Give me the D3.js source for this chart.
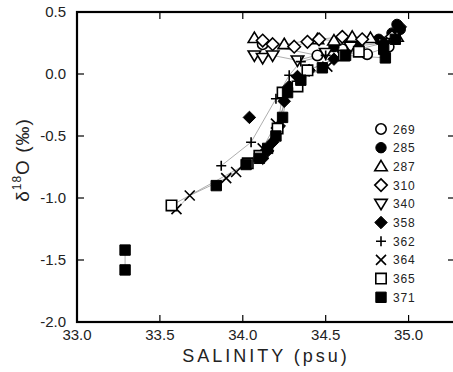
<!DOCTYPE html>
<html>
<head>
<meta charset="utf-8">
<script src="https://cdn.jsdelivr.net/npm/d3@7"></script>
<style>
  body { margin: 0; background: #fff; }
  text { font-family: "Liberation Sans", Arial, sans-serif; fill: #222; }
</style>
</head>
<body>
<div id="chart"></div>
<script>
// station ids, in legend order
const stations = ['269', '285', '287', '310', '340', '358', '362', '364', '365', '371'];

// [salinity, d18O] per station
const s269 = [[34.12, 0.24], [34.45, 0.15], [34.60, 0.20], [34.75, 0.16], [34.88, 0.22]];
const s285 = [[34.55, 0.22], [34.70, 0.25], [34.82, 0.28], [34.90, 0.33], [34.93, 0.40], [34.95, 0.36]];
const s287 = [[34.07, 0.29], [34.25, 0.24], [34.45, 0.28], [34.55, 0.27], [34.66, 0.30], [34.77, 0.29], [34.93, 0.30]];
const s310 = [[34.12, 0.27], [34.18, 0.24], [34.31, 0.22], [34.39, 0.26], [34.46, 0.28], [34.60, 0.30], [34.72, 0.28], [34.90, 0.30]];
const s340 = [[34.07, 0.15], [34.12, 0.13], [34.18, 0.15], [34.33, 0.11], [34.50, 0.17], [34.65, 0.22], [34.85, 0.25]];
const s358 = [[34.12, -0.68], [34.15, -0.62], [34.18, -0.55], [34.22, -0.42], [34.25, -0.22], [34.28, -0.10],
              [34.33, -0.02], [34.40, 0.03], [34.55, 0.12], [34.70, 0.20], [34.85, 0.25], [34.95, 0.38]];
const s358b = [[34.04, -0.35]];
const s362 = [[33.87, -0.74], [34.05, -0.55], [34.20, -0.20], [34.28, -0.01], [34.35, 0.10], [34.50, 0.15]];
const s364 = [[33.60, -1.09], [33.68, -0.98], [33.90, -0.84], [33.96, -0.79], [34.12, -0.60], [34.20, -0.40], [34.32, -0.05], [34.51, 0.06]];
const s365 = [[33.57, -1.06], [34.03, -0.72], [34.10, -0.66], [34.21, -0.44], [34.24, -0.15], [34.33, -0.10], [34.39, 0.03], [34.61, 0.15], [34.70, 0.18]];
const s371 = [[33.29, -1.42], [33.29, -1.58]];
const s371b = [[33.84, -0.90], [34.02, -0.73], [34.10, -0.68], [34.15, -0.60], [34.20, -0.50], [34.24, -0.35], [34.27, -0.15],
               [34.35, -0.05], [34.48, 0.05], [34.62, 0.15], [34.86, 0.13], [34.85, 0.20], [34.92, 0.28]];

const xTicks = [33.0, 33.5, 34.0, 34.5, 35.0];
const yTicks = [0.5, 0.0, -0.5, -1.0, -1.5, -2.0];

const series = [
  { id: '269', shape: 'circle', filled: false, pts: s269 },
  { id: '285', shape: 'circle', filled: true, pts: s285 },
  { id: '287', shape: 'triangle', filled: false, pts: s287 },
  { id: '310', shape: 'diamond', filled: false, pts: s310 },
  { id: '340', shape: 'itriangle', filled: false, pts: s340 },
  { id: '358', shape: 'diamond', filled: true, pts: s358 },
  { id: '362', shape: 'plus', filled: false, pts: s362 },
  { id: '364', shape: 'cross', filled: false, pts: s364 },
  { id: '365', shape: 'square', filled: false, pts: s365 },
  { id: '371', shape: 'square', filled: true, pts: s371 },
  { id: '371', shape: 'square', filled: true, pts: s371b, noLegend: true },
  { id: '358', shape: 'diamond', filled: true, pts: s358b, noLegend: true }
];

const width = 453, height = 372;
const x = d3.scaleLinear().domain([33.0, 35.28]).range([77, 455]);
const y = d3.scaleLinear().domain([-2.0, 0.5]).range([322, 12]);

const svg = d3.select('#chart').append('svg')
  .attr('width', width).attr('height', height);

// marker path, centred on 0,0
function shapePath(shape, r) {
  switch (shape) {
    case 'circle':
      return `M${r},0A${r},${r} 0 1,1 ${-r},0A${r},${r} 0 1,1 ${r},0Z`;
    case 'square':
      return `M${-r},${-r}H${r}V${r}H${-r}Z`;
    case 'diamond':
      return `M0,${-r * 1.2}L${r * 1.2},0L0,${r * 1.2}L${-r * 1.2},0Z`;
    case 'triangle':
      return `M0,${-r * 1.15}L${r * 1.2},${r * 0.85}L${-r * 1.2},${r * 0.85}Z`;
    case 'itriangle':
      return `M0,${r * 1.15}L${r * 1.2},${-r * 0.85}L${-r * 1.2},${-r * 0.85}Z`;
    case 'plus':
      return `M${-r},0H${r}M0,${-r}V${r}`;
    case 'cross':
      return `M${-r},${-r}L${r},${r}M${-r},${r}L${r},${-r}`;
  }
}

// thin connecting lines
const line = d3.line().x(d => x(d[0])).y(d => y(d[1]));
series.forEach(s => {
  svg.append('path')
    .attr('d', line(s.pts))
    .attr('fill', 'none')
    .attr('stroke', '#999')
    .attr('stroke-width', 0.8);
});

// markers
function drawMarker(g, s, cx, cy) {
  const r = (s.shape === 'plus' || s.shape === 'cross') ? 5 : 5.2;
  g.append('path')
    .attr('transform', `translate(${cx},${cy})`)
    .attr('d', shapePath(s.shape, r))
    .attr('fill', s.filled ? '#000' : (s.shape === 'plus' || s.shape === 'cross' ? 'none' : '#fff'))
    .attr('stroke', '#000')
    .attr('stroke-width', s.filled ? 1 : 1.6);
}
const marks = svg.append('g');
series.forEach(s => {
  s.pts.forEach(p => drawMarker(marks, s, x(p[0]), y(p[1])));
});

// frame and ticks (inward)
svg.append('rect')
  .attr('x', x(33.0)).attr('y', y(0.5))
  .attr('width', x(35.28) - x(33.0)).attr('height', y(-2.0) - y(0.5))
  .attr('fill', 'none').attr('stroke', '#000').attr('stroke-width', 2.2);

xTicks.forEach(t => {
  svg.append('line').attr('x1', x(t)).attr('x2', x(t))
    .attr('y1', y(-2.0)).attr('y2', y(-2.0) - 7).attr('stroke', '#000').attr('stroke-width', 1.2);
  svg.append('line').attr('x1', x(t)).attr('x2', x(t))
    .attr('y1', y(0.5)).attr('y2', y(0.5) + 7).attr('stroke', '#000').attr('stroke-width', 1.2);
  svg.append('text').attr('x', x(t)).attr('y', 340)
    .attr('text-anchor', 'middle').style('font-size', '15px')
    .text(t.toFixed(1));
});
yTicks.forEach(t => {
  svg.append('line').attr('x1', x(33.0)).attr('x2', x(33.0) + 7)
    .attr('y1', y(t)).attr('y2', y(t)).attr('stroke', '#000').attr('stroke-width', 1.2);
  svg.append('line').attr('x1', x(35.28)).attr('x2', x(35.28) - 7)
    .attr('y1', y(t)).attr('y2', y(t)).attr('stroke', '#000').attr('stroke-width', 1.2);
  svg.append('text').attr('x', 66).attr('y', y(t) + 5)
    .attr('text-anchor', 'end').style('font-size', '15px')
    .text(t.toFixed(1).replace('-0.0', '0.0'));
});

// axis titles
svg.append('text').attr('x', 266).attr('y', 362)
  .attr('text-anchor', 'middle').style('font-size', '18px').style('letter-spacing', '3px')
  .text('SALINITY (psu)');

const yl = svg.append('text')
  .attr('transform', 'translate(29,160) rotate(-90)')
  .attr('text-anchor', 'middle').style('font-size', '19px').style('letter-spacing', '1px');
yl.append('tspan').text('δ');
yl.append('tspan').attr('dy', -8).style('font-size', '12px').text('18');
yl.append('tspan').attr('dy', 8).text('O (‰)');

// legend
const legend = svg.append('g');
series.filter(s => !s.noLegend).forEach((s, i) => {
  const ly = 129 + i * 18.7;
  drawMarker(legend, s, 381, ly);
  legend.append('text').attr('x', 393).attr('y', ly + 4.5)
    .style('font-size', '12px').style('letter-spacing', '0.8px')
    .text(s.id);
});
</script>
</body>
</html>
